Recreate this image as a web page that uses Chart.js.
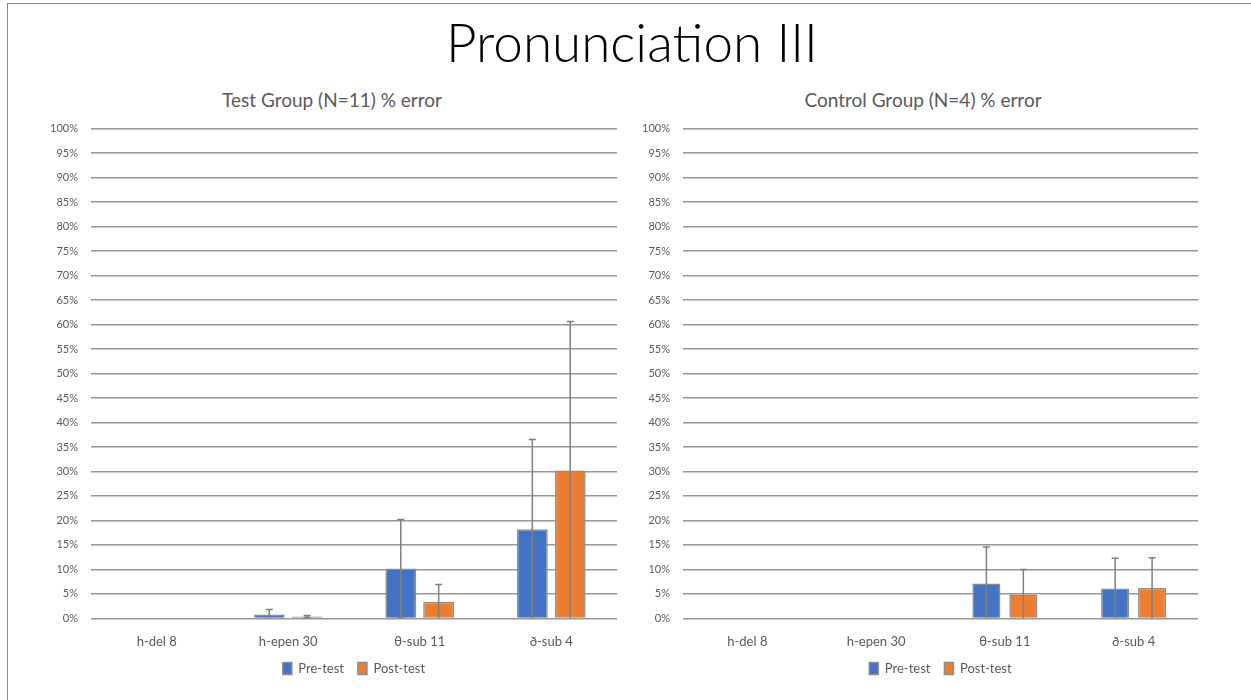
<!DOCTYPE html>
<html lang="en">
<head>
    <meta charset="UTF-8">
    <title>Pronunciation III</title>
    <script src="https://cdn.jsdelivr.net/npm/chart.js"></script>
    <style>
        body {
            margin: 0;
            width: 1251px;
            height: 700px;
            background: #ffffff;
            font-family: Lato, Arial, sans-serif;
            position: relative;
            overflow: hidden;
        }
        .frame {
            position: absolute;
            left: 7px;
            top: 3px;
            width: 1260px;
            height: 720px;
            border-left: 1px solid #8a8a8a;
            border-top: 1px solid #8a8a8a;
        }
        h1 {
            position: absolute;
            top: 10px;
            left: 0;
            width: 1264px;
            margin: 0;
            text-align: center;
            font-weight: 300;
            font-size: 53px;
            color: #000;
        }
        .ctitle {
            position: absolute;
            top: 88px;
            width: 400px;
            text-align: center;
            font-size: 19px;
            line-height: 24px;
            color: #595959;
        }
        .box {
            position: absolute;
            top: 109px;
            height: 576px;
        }
    </style>
</head>
<body>
    <div class="frame"></div>
    <h1>Pronunciation III</h1>
    <div class="ctitle" style="left:132px;">Test Group (N=11) % error</div>
    <div class="ctitle" style="left:723px;">Control Group (N=4) % error</div>
    <div class="box" style="left:37px; width:588px;"><canvas id="testChart"></canvas></div>
    <div class="box" style="left:629px; width:577px;"><canvas id="controlChart"></canvas></div>

    <script>
        // categories and values (% error)
        const categories = ['h-del 8', 'h-epen 30', 'θ-sub 11', 'ð-sub 4'];
        const yTicks = [0, 5, 10, 15, 20, 25, 30, 35, 40, 45, 50, 55, 60, 65, 70, 75, 80, 85, 90, 95, 100];

        const testPre = [0, 0.8, 10.2, 18.2];
        const testPost = [0, 0.4, 3.4, 30.2];
        const testPreErr = [0, 1.0, 10.0, 18.3];
        const testPostErr = [0, 0.2, 3.5, 30.4];

        const controlPre = [0, 0, 7.1, 6.1];
        const controlPost = [0, 0, 4.9, 6.2];
        const controlPreErr = [0, 0, 7.5, 6.2];
        const controlPostErr = [0, 0, 5.1, 6.2];

        const grey = '#595959';

        // error bars drawn on top of the bars
        const errorBars = {
            id: 'errorBars',
            afterDatasetsDraw(chart) {
                const ctx = chart.ctx;
                const yScale = chart.scales.y;
                chart.data.datasets.forEach((ds, i) => {
                    const meta = chart.getDatasetMeta(i);
                    meta.data.forEach((bar, j) => {
                        const v = ds.data[j];
                        const e = ds.errors[j];
                        if (!e) return;
                        const top = yScale.getPixelForValue(v + e);
                        const lowVal = Math.max(0, v - e);
                        const bottom = yScale.getPixelForValue(lowVal);
                        ctx.save();
                        ctx.strokeStyle = '#7f7f7f';
                        ctx.lineWidth = 1.5;
                        ctx.beginPath();
                        ctx.moveTo(bar.x, bottom);
                        ctx.lineTo(bar.x, top);
                        ctx.moveTo(bar.x - 3.5, top);
                        ctx.lineTo(bar.x + 3.5, top);
                        if (lowVal > 0) {
                            ctx.moveTo(bar.x - 3.5, bottom);
                            ctx.lineTo(bar.x + 3.5, bottom);
                        }
                        ctx.stroke();
                        ctx.restore();
                    });
                });
            }
        };

        function makeChart(id, pre, post, preErr, postErr, catPct, barPct) {
            return new Chart(document.getElementById(id), {
                type: 'bar',
                data: {
                    labels: categories,
                    datasets: [
                        { label: 'Pre-test', data: pre, errors: preErr, backgroundColor: '#4472C4', borderColor: '#8c8c8c', borderWidth: 1.5 },
                        { label: 'Post-test', data: post, errors: postErr, backgroundColor: '#ED7D31', borderColor: '#8c8c8c', borderWidth: 1.5 }
                    ]
                },
                options: {
                    responsive: true,
                    maintainAspectRatio: false,
                    animation: false,
                    categoryPercentage: catPct,
                    barPercentage: barPct,
                    layout: { padding: { top: 6, right: 8, left: 0, bottom: 0 } },
                    scales: {
                        x: {
                            grid: { display: false },
                            border: { display: false },
                            ticks: { color: grey, font: { family: 'Lato', size: 13 }, padding: 8 }
                        },
                        y: {
                            min: 0,
                            max: 100,
                            afterBuildTicks(axis) { axis.ticks = yTicks.map(v => ({ value: v })); },
                            grid: { color: '#969696', lineWidth: 1.5, drawTicks: false },
                            border: { display: false },
                            ticks: { color: grey, font: { family: 'Lato', size: 11 }, padding: 13, callback: v => v + '%' }
                        }
                    },
                    plugins: {
                        title: { display: false },
                        legend: {
                            position: 'bottom',
                            fullSize: false,
                            labels: {
                                color: grey,
                                font: { family: 'Lato', size: 13 },
                                boxWidth: 9,
                                boxHeight: 12,
                                padding: 4,
                                generateLabels(chart) {
                                    const items = Chart.defaults.plugins.legend.labels.generateLabels(chart);
                                    items.forEach((it, k) => { if (k < items.length - 1) it.text = it.text + '   '; });
                                    return items;
                                }
                            }
                        },
                        tooltip: { enabled: false }
                    }
                },
                plugins: [errorBars]
            });
        }

        makeChart('testChart', testPre, testPost, testPreErr, testPostErr, 0.576, 0.816);
        makeChart('controlChart', controlPre, controlPost, controlPreErr, controlPostErr, 0.574, 0.76);
    </script>
</body>
</html>
